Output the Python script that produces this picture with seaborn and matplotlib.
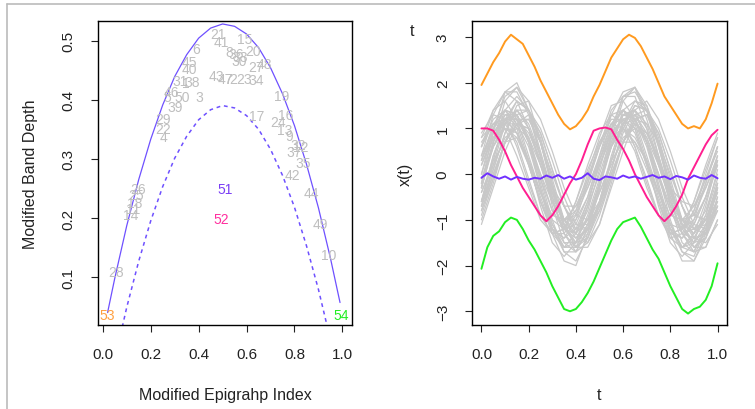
import numpy as np
import pandas as pd
import seaborn as sns
import matplotlib.pyplot as plt
from matplotlib.lines import Line2D

#### Outliergram data (left panel) ####
label_ids = list(range(1, 55))
mei = [0.345, 0.545, 0.404, 0.254, 0.270, 0.388, 0.525, 0.529, 0.776, 0.943,
       0.125, 0.825, 0.758, 0.117, 0.592, 0.765, 0.643, 0.133, 0.745, 0.626,
       0.480, 0.251, 0.590, 0.730, 0.140, 0.147, 0.640, 0.057, 0.251, 0.571,
       0.321, 0.814, 0.575, 0.638, 0.835, 0.555, 0.800, 0.375, 0.300, 0.363,
       0.495, 0.793, 0.474, 0.870, 0.360, 0.286, 0.510, 0.675, 0.907, 0.332,
       0.510, 0.493, 0.018, 0.995]
mbd = [0.428, 0.435, 0.404, 0.337, 0.404, 0.485, 0.435, 0.480, 0.339, 0.137,
       0.215, 0.320, 0.349, 0.205, 0.502, 0.374, 0.373, 0.225, 0.406, 0.483,
       0.511, 0.351, 0.435, 0.362, 0.238, 0.249, 0.455, 0.108, 0.368, 0.466,
       0.432, 0.324, 0.472, 0.434, 0.293, 0.478, 0.311, 0.430, 0.387, 0.451,
       0.498, 0.272, 0.440, 0.243, 0.464, 0.413, 0.435, 0.461, 0.190, 0.404,
       0.249, 0.198, 0.036, 0.036]
outlier_colors = {51: '#7B3FF5', 52: '#FF2F9F', 53: '#FFA040', 54: '#22EE22'}

parab_mei = [0.02, 0.05, 0.10, 0.15, 0.20, 0.25, 0.30, 0.35, 0.40, 0.45, 0.50,
             0.55, 0.60, 0.65, 0.70, 0.75, 0.80, 0.85, 0.90, 0.95, 0.99]
parab_upper = [0.040, 0.098, 0.187, 0.265, 0.333, 0.391, 0.439, 0.476, 0.504, 0.521, 0.528,
               0.524, 0.511, 0.488, 0.454, 0.410, 0.356, 0.291, 0.217, 0.132, 0.057]
parab_lower = [-0.098, -0.040, 0.049, 0.127, 0.195, 0.253, 0.301, 0.338, 0.366, 0.383, 0.390,
               0.386, 0.373, 0.350, 0.316, 0.272, 0.218, 0.153, 0.079, -0.006, -0.081]

#### Functional data (right panel) ####
t_grey = [0.0, 0.05, 0.1, 0.15, 0.2, 0.25, 0.3, 0.35, 0.4, 0.45, 0.5,
          0.55, 0.6, 0.65, 0.7, 0.75, 0.8, 0.85, 0.9, 0.95, 1.0]
grey_curves = [
    [0.0, 0.8, 1.2, 1.3, 0.8, 0.0, -0.8, -1.2, -1.3, -0.7, 0.0, 0.8, 1.3, 1.2, 0.7, 0.0, -0.8, -1.3, -1.2, -0.8, 0.0],
    [-0.3, 0.7, 1.4, 1.7, 1.4, 0.7, -0.3, -1.0, -1.3, -1.0, -0.2, 0.6, 1.4, 1.6, 1.4, 0.6, -0.3, -1.0, -1.3, -1.0, -0.3],
    [0.2, 0.8, 1.0, 0.8, 0.2, -0.6, -1.2, -1.4, -1.2, -0.6, 0.2, 0.8, 1.0, 0.7, 0.1, -0.6, -1.2, -1.4, -1.1, -0.5, 0.2],
    [-0.7, 0.1, 0.9, 1.4, 1.4, 0.9, 0.1, -0.7, -1.2, -1.2, -0.7, 0.1, 1.0, 1.5, 1.4, 0.9, 0.1, -0.7, -1.2, -1.3, -0.7],
    [0.7, 1.1, 1.1, 0.7, -0.1, -0.9, -1.3, -1.3, -0.9, -0.1, 0.7, 1.2, 1.2, 0.6, -0.1, -0.9, -1.4, -1.3, -0.8, -0.1, 0.6],
    [0.0, 1.0, 1.7, 1.9, 1.4, 0.5, -0.4, -1.1, -1.3, -0.8, 0.1, 1.0, 1.7, 1.8, 1.4, 0.6, -0.4, -1.1, -1.3, -0.9, 0.1],
    [0.4, 1.0, 1.4, 1.3, 0.7, 0.0, -0.6, -1.0, -0.9, -0.3, 0.4, 1.1, 1.4, 1.2, 0.7, 0.0, -0.7, -1.0, -0.9, -0.3, 0.4],
    [-0.9, -0.1, 0.7, 1.1, 1.0, 0.3, -0.5, -1.3, -1.7, -1.5, -0.9, -0.1, 0.7, 1.1, 0.9, 0.3, -0.5, -1.3, -1.7, -1.6, -1.0],
    [0.6, 1.1, 1.2, 0.9, 0.3, -0.4, -0.9, -1.0, -0.7, -0.1, 0.6, 1.1, 1.2, 0.9, 0.2, -0.4, -0.9, -1.0, -0.7, -0.1, 0.5],
    [-0.2, 0.7, 1.2, 1.2, 0.7, -0.2, -1.1, -1.6, -1.6, -1.1, -0.2, 0.7, 1.3, 1.2, 0.7, -0.2, -1.1, -1.6, -1.7, -1.1, -0.2],
    [-0.6, 0.1, 0.9, 1.5, 1.6, 1.2, 0.5, -0.3, -0.9, -1.0, -0.6, 0.1, 0.9, 1.4, 1.6, 1.2, 0.5, -0.3, -0.9, -1.0, -0.6],
    [0.8, 1.1, 1.0, 0.4, -0.3, -1.0, -1.3, -1.2, -0.6, 0.1, 0.7, 1.1, 1.0, 0.5, -0.3, -0.9, -1.3, -1.2, -0.6, 0.1, 0.8],
    [-0.3, 0.7, 1.6, 1.9, 1.6, 0.7, -0.3, -1.2, -1.5, -1.2, -0.3, 0.8, 1.6, 1.9, 1.5, 0.7, -0.3, -1.2, -1.5, -1.2, -0.3],
    [0.3, 0.9, 1.3, 1.2, 0.9, 0.3, -0.3, -0.7, -0.7, -0.3, 0.3, 0.9, 1.2, 1.3, 0.9, 0.3, -0.3, -0.6, -0.7, -0.3, 0.3],
    [-0.2, 0.6, 1.2, 1.4, 1.0, 0.2, -0.6, -1.2, -1.4, -1.0, -0.2, 0.6, 1.3, 1.4, 1.0, 0.2, -0.6, -1.3, -1.4, -1.0, -0.2],
    [-0.1, 0.6, 1.0, 0.9, 0.3, -0.5, -1.2, -1.6, -1.5, -0.9, -0.1, 0.6, 1.0, 0.8, 0.3, -0.5, -1.2, -1.6, -1.4, -0.9, -0.1],
    [-0.6, 0.3, 1.2, 1.6, 1.4, 0.8, -0.1, -1.0, -1.4, -1.2, -0.6, 0.3, 1.1, 1.6, 1.5, 0.8, -0.1, -1.0, -1.4, -1.3, -0.6],
    [-0.7, 0.0, 0.7, 1.1, 1.2, 0.7, 0.0, -0.7, -1.1, -1.1, -0.7, 0.0, 0.7, 1.2, 1.1, 0.7, 0.0, -0.7, -1.2, -1.1, -0.7],
    [0.3, 1.1, 1.4, 1.1, 0.3, -0.7, -1.5, -1.8, -1.5, -0.7, 0.3, 1.1, 1.4, 1.1, 0.3, -0.7, -1.5, -1.8, -1.5, -0.7, 0.3],
    [-0.4, 0.2, 0.8, 1.0, 0.8, 0.2, -0.4, -1.0, -1.2, -1.0, -0.4, 0.2, 0.8, 1.0, 0.8, 0.2, -0.4, -1.0, -1.2, -1.0, -0.4],
    [0.8, 1.4, 1.6, 1.2, 0.4, -0.4, -1.0, -1.2, -0.8, 0.0, 0.8, 1.5, 1.6, 1.2, 0.4, -0.4, -1.1, -1.2, -0.8, 0.0, 0.8],
    [-0.8, -0.1, 0.7, 1.3, 1.4, 1.0, 0.3, -0.5, -1.1, -1.2, -0.8, -0.1, 0.7, 1.3, 1.4, 1.0, 0.3, -0.5, -1.1, -1.2, -0.8],
    [-0.2, 0.9, 1.8, 2.0, 1.4, 0.4, -0.7, -1.5, -1.7, -1.2, -0.2, 0.9, 1.7, 1.9, 1.4, 0.4, -0.7, -1.5, -1.7, -1.2, -0.2],
    [-0.4, 0.3, 0.7, 0.8, 0.3, -0.4, -1.1, -1.5, -1.5, -1.1, -0.4, 0.3, 0.7, 0.7, 0.3, -0.4, -1.1, -1.6, -1.5, -1.1, -0.4],
    [0.6, 1.4, 1.8, 1.6, 1.0, 0.2, -0.6, -1.0, -0.8, -0.2, 0.6, 1.4, 1.7, 1.7, 1.0, 0.2, -0.6, -1.0, -0.9, -0.2, 0.6],
    [0.9, 1.3, 1.2, 0.6, -0.2, -0.9, -1.3, -1.2, -0.6, 0.2, 0.9, 1.3, 1.1, 0.6, -0.2, -0.9, -1.3, -1.2, -0.6, 0.2, 0.9],
    [-1.1, -0.3, 0.5, 1.1, 1.3, 0.9, 0.1, -0.7, -1.3, -1.5, -1.1, -0.3, 0.5, 1.2, 1.3, 0.9, 0.1, -0.7, -1.4, -1.5, -1.1],
    [-0.3, 0.7, 1.3, 1.3, 0.7, -0.3, -1.3, -1.9, -2.0, -1.3, -0.3, 0.7, 1.3, 1.4, 0.7, -0.3, -1.3, -1.9, -1.9, -1.3, -0.3],
    [0.4, 1.3, 1.8, 1.8, 1.3, 0.4, -0.5, -1.0, -1.0, -0.5, 0.4, 1.3, 1.8, 1.9, 1.2, 0.4, -0.5, -1.0, -1.1, -0.5, 0.4],
    [-0.8, 0.0, 0.7, 1.1, 1.0, 0.4, -0.4, -1.1, -1.5, -1.4, -0.8, 0.0, 0.7, 1.1, 0.9, 0.4, -0.4, -1.1, -1.5, -1.4, -0.8],
    [-0.6, 0.4, 1.1, 1.3, 0.8, -0.1, -1.0, -1.7, -1.9, -1.4, -0.6, 0.4, 1.2, 1.3, 0.8, 0.0, -1.0, -1.7, -1.9, -1.4, -0.5],
    [-0.6, 0.4, 1.1, 1.4, 1.1, 0.4, -0.6, -1.3, -1.6, -1.3, -0.6, 0.3, 1.1, 1.4, 1.1, 0.3, -0.6, -1.3, -1.6, -1.3, -0.5],
    [0.2, 0.9, 1.2, 0.9, 0.2, -0.6, -1.3, -1.6, -1.3, -0.6, 0.2, 0.9, 1.2, 1.0, 0.2, -0.6, -1.4, -1.6, -1.3, -0.6, 0.2],
    [-0.7, 0.2, 1.1, 1.6, 1.4, 0.7, -0.2, -1.1, -1.6, -1.4, -0.7, 0.3, 1.1, 1.5, 1.4, 0.7, -0.3, -1.1, -1.6, -1.4, -0.7],
    [-0.3, 0.6, 1.1, 1.1, 0.6, -0.3, -1.2, -1.7, -1.7, -1.2, -0.3, 0.6, 1.1, 1.2, 0.6, -0.3, -1.2, -1.7, -1.8, -1.2, -0.3],
    [0.3, 1.0, 1.4, 1.3, 0.7, -0.1, -0.8, -1.2, -1.1, -0.5, 0.3, 1.0, 1.4, 1.2, 0.7, -0.1, -0.8, -1.2, -1.0, -0.5, 0.3],
    [-1.0, -0.2, 0.7, 1.2, 1.2, 0.7, -0.2, -1.1, -1.6, -1.6, -1.1, -0.2, 0.7, 1.2, 1.3, 0.7, -0.2, -1.1, -1.6, -1.6, -1.0],
    [0.6, 1.2, 1.4, 1.0, 0.2, -0.6, -1.2, -1.4, -1.0, -0.2, 0.6, 1.3, 1.4, 1.0, 0.2, -0.6, -1.3, -1.4, -1.0, -0.2, 0.6],
]

t_out = np.linspace(0, 1, 41)
x_orange = [1.95, 2.2, 2.45, 2.65, 2.9, 3.05, 2.95, 2.85, 2.6, 2.35, 2.05, 1.8, 1.55, 1.3, 1.1, 0.98,
            1.05, 1.2, 1.4, 1.7, 1.95, 2.25, 2.55, 2.75, 2.95, 3.05, 2.98, 2.8, 2.55, 2.3, 2.0, 1.7,
            1.5, 1.3, 1.1, 1.0, 1.05, 1.0, 1.2, 1.55, 1.98]
x_green = [-2.07, -1.6, -1.35, -1.25, -1.05, -0.95, -1.0, -1.2, -1.45, -1.65, -1.9, -2.15, -2.45,
           -2.7, -2.95, -3.0, -2.95, -2.8, -2.6, -2.35, -2.05, -1.75, -1.45, -1.2, -1.05, -1.0,
           -0.95, -1.15, -1.4, -1.65, -1.85, -2.15, -2.45, -2.7, -2.95, -3.05, -2.95, -2.9, -2.75,
           -2.45, -1.95]
x_magenta = [1.0, 1.0, 0.95, 0.75, 0.5, 0.2, -0.05, -0.3, -0.5, -0.7, -0.9, -1.03, -0.9, -0.7,
             -0.45, -0.2, 0.0, 0.3, 0.65, 0.95, 1.0, 1.02, 0.98, 0.75, 0.55, 0.3, 0.0, -0.25,
             -0.5, -0.7, -0.9, -1.03, -0.9, -0.7, -0.45, -0.1, 0.15, 0.4, 0.65, 0.85, 0.97]
x_purple = [-0.08, 0.02, -0.05, -0.1, -0.05, -0.12, -0.06, -0.1, -0.12, -0.08, -0.1, -0.03, -0.08,
            -0.02, -0.1, -0.05, -0.12, -0.08, 0.02, -0.1, -0.13, -0.05, -0.07, -0.1, -0.03, -0.08,
            -0.05, -0.1, -0.06, -0.02, -0.08, -0.05, -0.11, -0.04, -0.07, -0.12, -0.03, -0.08,
            -0.1, -0.02, -0.09]

#### Plot ####
sns.set_style("ticks")
plt.rcParams['font.family'] = ['Liberation Sans', 'DejaVu Sans']

fig = plt.figure(figsize=(7.55, 4.10), dpi=100)
ax1 = fig.add_axes([98 / 755, 84 / 410, 254 / 755, 304 / 410])
ax2 = fig.add_axes([472 / 755, 84 / 410, 255 / 755, 304 / 410])

line_col = '#6E50FF'
grey = '#BEBEBE'
txt_col = '#222222'

# left: parabolas + labels
sns.lineplot(x=parab_mei, y=parab_upper, ax=ax1, color=line_col, lw=0.9, sort=False)
sns.lineplot(x=parab_mei, y=parab_lower, ax=ax1, color=line_col, lw=1.1, sort=False,
             dashes=False, linestyle=(0, (2.5, 2.5)))
for i, x, y in zip(label_ids, mei, mbd):
    ax1.text(x, y, str(i), color=outlier_colors.get(i, grey), fontsize=10,
             ha='center', va='center')
ax1.set_xlim(-0.02, 1.04)
ax1.set_ylim(0.019, 0.533)
ax1.set_xticks([0.0, 0.2, 0.4, 0.6, 0.8, 1.0])
ax1.set_yticks([0.1, 0.2, 0.3, 0.4, 0.5])

# right: functional data
grey_df = pd.DataFrame({
    't': np.tile(t_grey, len(grey_curves)),
    'x': np.concatenate(grey_curves),
    'curve': np.repeat(np.arange(len(grey_curves)), len(t_grey)),
})
sns.lineplot(data=grey_df, x='t', y='x', units='curve', estimator=None, ax=ax2,
             color='#C8C8C8', lw=0.9)
for vals, col in [(x_orange, '#FF9A1F'), (x_green, '#22EE22'),
                  (x_magenta, '#FF1F90'), (x_purple, '#7030FF')]:
    sns.lineplot(x=t_out, y=vals, ax=ax2, color=col, lw=1.4)
ax2.set_xlim(-0.04, 1.04)
ax2.set_ylim(-3.3, 3.35)
ax2.set_xticks([0.0, 0.2, 0.4, 0.6, 0.8, 1.0])
ax2.set_yticks([-3, -2, -1, 0, 1, 2, 3])

for ax in (ax1, ax2):
    for s in ax.spines.values():
        s.set_color('black')
        s.set_linewidth(1.0)
    ax.tick_params(length=5, width=0.8, pad=11, labelsize=11, colors=txt_col)
    ax.tick_params(axis='y', labelrotation=90)
    ax.set_xticklabels([f'{v:.1f}' for v in ax.get_xticks()])

ax1.set_yticklabels([f'{v:.1f}' for v in ax1.get_yticks()])
ax2.set_yticklabels([f'{int(v)}' if v >= 0 else f'\u2212{int(-v)}' for v in ax2.get_yticks()])
for ax in (ax1, ax2):
    for lab in ax.get_yticklabels():
        lab.set_va('center')

ax1.set_xlabel('Modified Epigrahp Index', fontsize=11.5, color=txt_col)
ax1.set_ylabel('Modified Band Depth', fontsize=11.5, color=txt_col)
ax1.xaxis.set_label_coords(0.5, -0.205)
ax1.yaxis.set_label_coords(-0.236, 0.5)
ax2.set_xlabel('t', fontsize=11.5, color=txt_col)
ax2.set_ylabel('x(t)', fontsize=11.5, color=txt_col)
ax2.xaxis.set_label_coords(0.5, -0.205)
ax2.yaxis.set_label_coords(-0.231, 0.5)
fig.text(412 / 755, 1 - 32 / 410, 't', fontsize=11.5, color=txt_col, ha='center', va='center')

# light frame of the original screenshot
fig.add_artist(Line2D([7 / 755, 1], [1 - 5 / 410, 1 - 5 / 410], color='#BBBBBB', lw=1.2))
fig.add_artist(Line2D([7 / 755, 7 / 755], [0, 1 - 5 / 410], color='#BBBBBB', lw=1.2))

fig.savefig('out.png', dpi=100)
